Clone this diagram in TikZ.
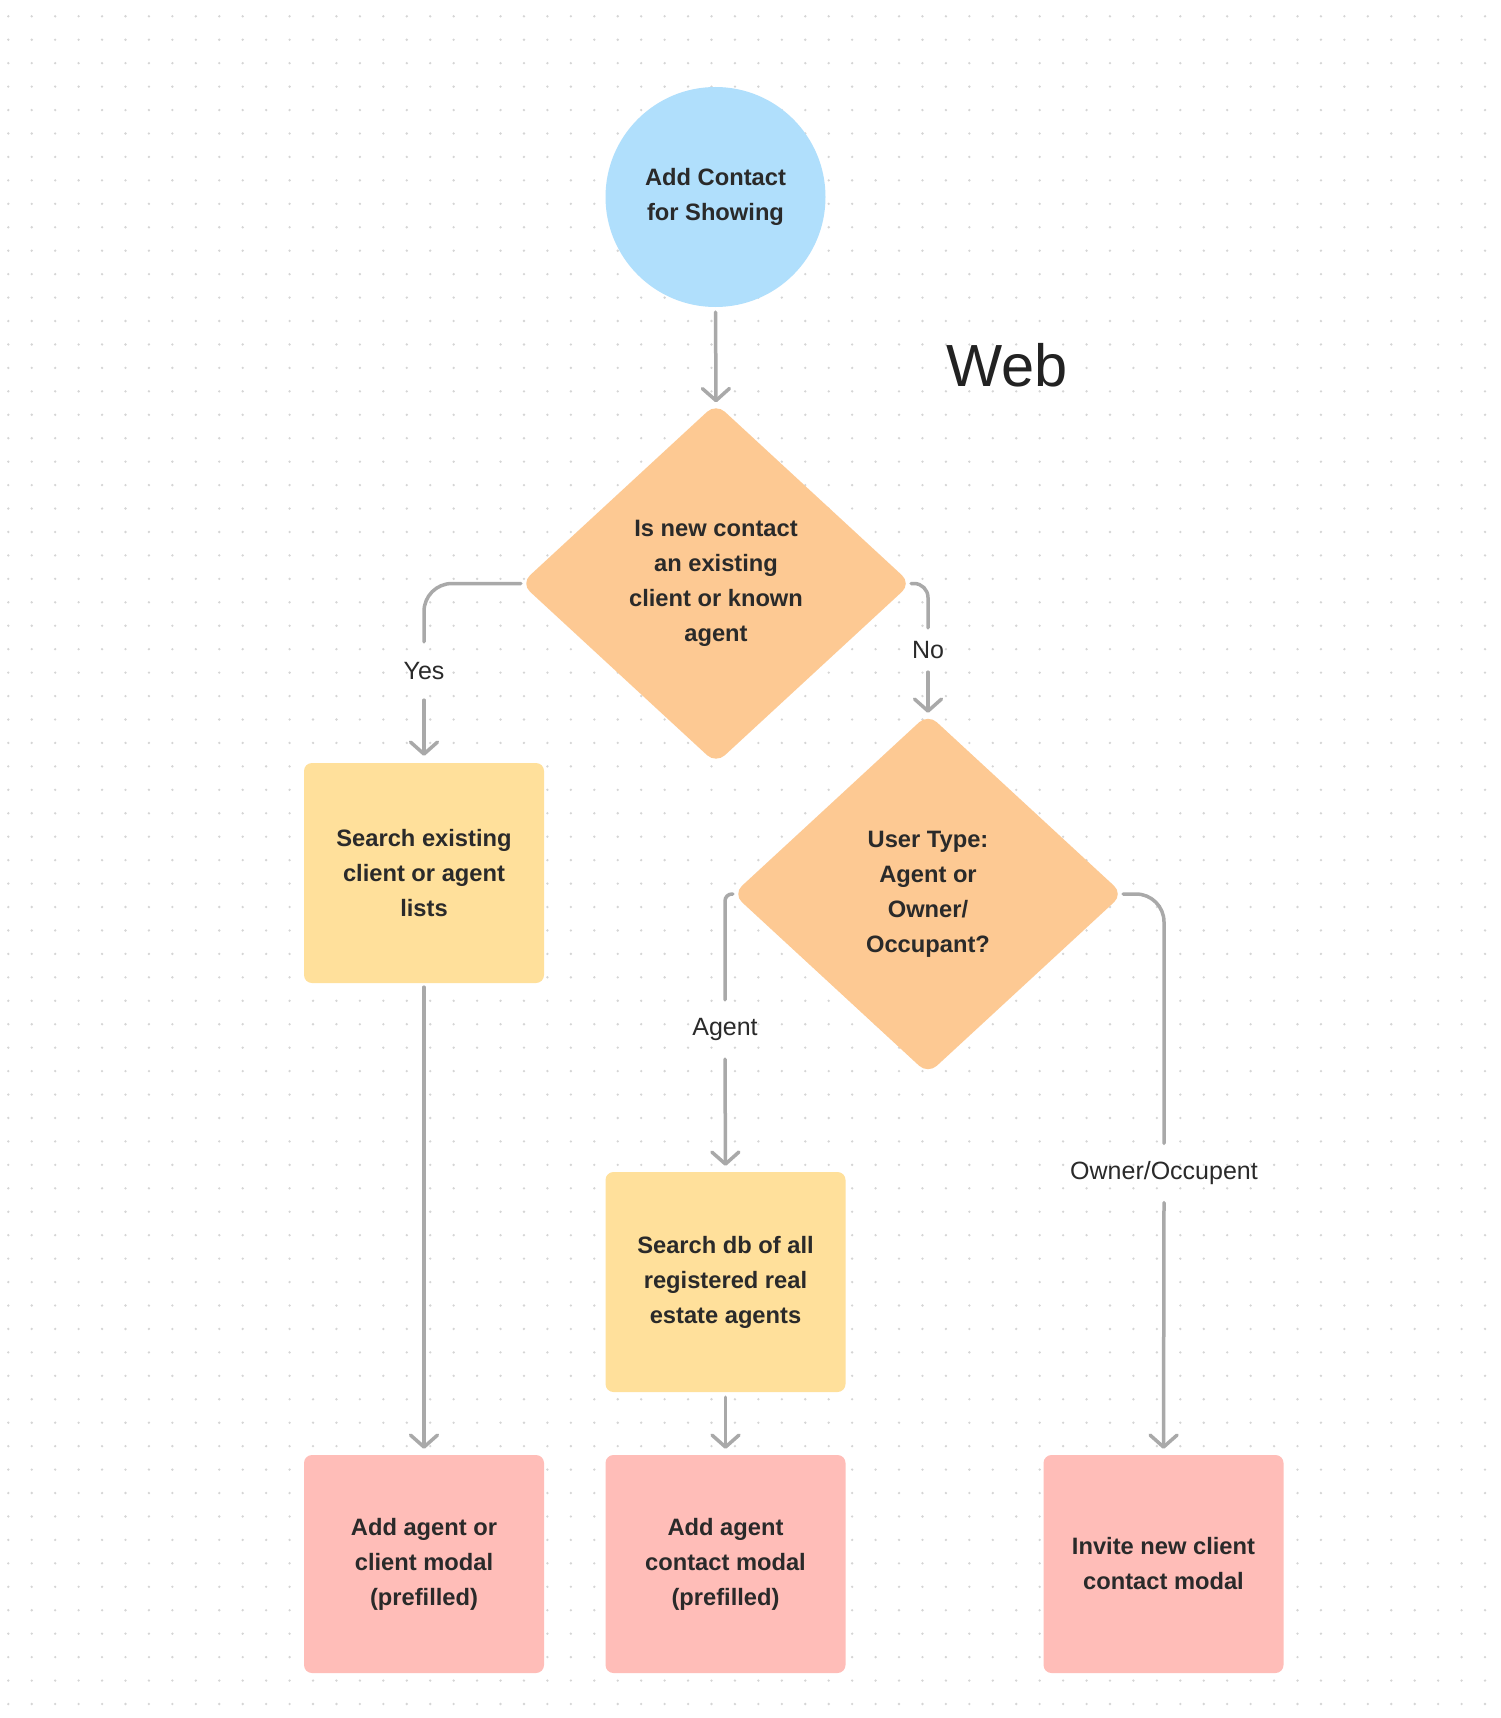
\documentclass[tikz,border=0pt]{standalone}
\usepackage{fontspec}
\setmainfont{Liberation Sans}
\usetikzlibrary{arrows.meta,shapes.geometric}
\definecolor{dotc}{HTML}{D5D5D5}
\definecolor{linec}{HTML}{A9A9A9}
\definecolor{txt}{HTML}{2A2A2A}
\definecolor{blueF}{HTML}{B0DFFC}
\definecolor{orangeF}{HTML}{FDC993}
\definecolor{yellowF}{HTML}{FFE09B}
\definecolor{pinkF}{HTML}{FFBDB8}
\newcommand\nodefont{\fontsize{23.7}{35}\selectfont\bfseries}
\newcommand\lblfont{\fontsize{25}{28}\selectfont}
\begin{document}
\begin{tikzpicture}[x=1pt,y=-1pt,
  shapebase/.style={draw=none, inner sep=0pt, align=center, font=\nodefont, text=txt},
  startnode/.style={shapebase, circle, fill=blueF, minimum size=220pt},
  decision/.style={shapebase, diamond, fill=orangeF, minimum width=390pt, minimum height=360pt, rounded corners=12pt},
  stepbox/.style={shapebase, rectangle, rounded corners=8pt, fill=yellowF, minimum width=240pt, minimum height=220pt},
  endbox/.style={stepbox, fill=pinkF, minimum height=218pt},
  lbl/.style={inner sep=0pt, font=\lblfont, text=txt, minimum width=20pt},
  ln/.style={draw=linec, line width=3.5pt, line cap=round},
  arr/.style={ln, -{Straight Barb[length=12pt,width=27pt,round]}}
]
\useasboundingbox (0,0) rectangle (1500,1718);
\fill[white] (0,0) rectangle (1500,1718);
% dotted background
\foreach \i in {0,...,63}{
  \foreach \j in {0,...,72}{
    \fill[dotc] ({8.3+23.44*\i},{16.3+23.44*\j}) circle[radius=1.3pt];
  }
}
% nodes
\node[startnode] (circ) at (715.5,197) {Add Contact\\for Showing};
\node[inner sep=0pt, font=\fontsize{59.5}{62}\selectfont, text=txt!80!black] (web) at (1007,365) {Web};
\node[decision] (d1) at (716,583.5) {Is new contact\\an existing\\client or known\\agent};
\node[decision] (d2) at (928,894) {User Type:\\Agent or\\Owner/\\Occupant?};
\node[stepbox] (box1) at (424,873) {Search existing\\client or agent\\lists};
\node[stepbox] (box2) at (725.5,1282) {Search db of all\\registered real\\estate agents};
\node[endbox] (box3) at (424,1564) {Add agent or\\client modal\\(prefilled)};
\node[endbox] (box4) at (725.5,1564) {Add agent\\contact modal\\(prefilled)};
\node[endbox] (box5) at (1163.5,1564) {Invite new client\\contact modal};
% labels
\node[lbl, minimum height=58pt] (lyes) at (424,671) {Yes};
\node[lbl, minimum height=44pt] (lno) at (928,650) {No};
\node[lbl, minimum height=59pt] (lagent) at (725,1029.5) {Agent};
\node[lbl, minimum height=59pt] (lowner) at (1164,1173) {Owner/Occupent};
% connectors
\draw[arr, shorten <=5pt, shorten >=1pt] (circ.south) -- (d1.north);
\draw[ln, rounded corners=28pt] (d1.west) -| (lyes.north);
\draw[arr, shorten >=7pt] (lyes.south) -- (box1.north);
\draw[ln, rounded corners=14pt] (d1.east) -| (lno.north);
\draw[arr, shorten >=1pt] (lno.south) -- (d2.north);
\draw[ln, rounded corners=7pt] (d2.west) -| (lagent.north);
\draw[arr, shorten >=6pt] (lagent.south) -- (box2.north);
\draw[ln, rounded corners=28pt] (d2.east) -| (lowner.north);
\draw[arr, shorten >=6pt] (lowner.south) -- (box5.north);
\draw[arr, shorten <=4pt, shorten >=6pt] (box1.south) -- (box3.north);
\draw[arr, shorten <=5pt, shorten >=6pt] (box2.south) -- (box4.north);
\end{tikzpicture}
\end{document}
